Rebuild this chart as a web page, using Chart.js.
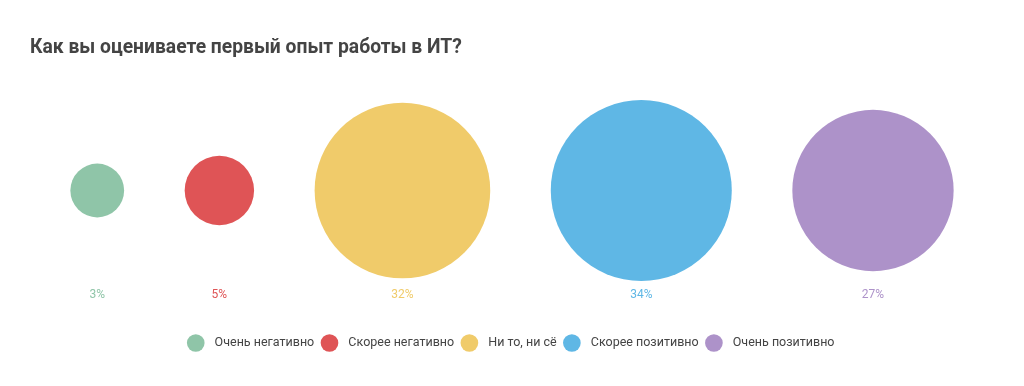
<!DOCTYPE html>
<html lang="ru">
<head>
<meta charset="UTF-8">
<title>Первый опыт работы в ИТ</title>
<script src="https://cdn.jsdelivr.net/npm/chart.js"></script>
<style>
  html, body { margin: 0; padding: 0; background: #fff; }
  .wrap { width: 1024px; height: 386px; }
</style>
</head>
<body>
<div class="wrap"><canvas id="chart"></canvas></div>
<script>
  const CATEGORIES = ['Очень негативно', 'Скорее негативно', 'Ни то, ни сё', 'Скорее позитивно', 'Очень позитивно'];
  const VALUES = [3, 5, 32, 34, 27]; // %
  const COLORS = ['#8fc5a8', '#df5456', '#f0cb6a', '#5fb7e5', '#ad92c9'];

  // bubbles side by side, area proportional to value (units = sqrt of %)
  const GAP = 3.9, MARGIN = 2.6;
  let cursor = 0;
  const CENTERS = VALUES.map(v => {
    const r = Math.sqrt(v);
    const c = cursor + r;
    cursor += 2 * r + GAP;
    return c;
  });
  const SPAN = cursor - GAP;

  const PAD_X = 30;
  const PLOT_W = 1024 - 2 * PAD_X;
  const PX_PER_UNIT = PLOT_W / (SPAN + 2 * MARGIN);

  Chart.defaults.font.family = 'Roboto';

  const datasets = CATEGORIES.map((name, i) => ({
    label: name,
    data: [{ x: CENTERS[i], y: 0, r: Math.sqrt(VALUES[i]) * PX_PER_UNIT }],
    backgroundColor: COLORS[i],
    borderWidth: 0,
    hoverBorderWidth: 0,
    clip: false
  }));

  new Chart(document.getElementById('chart'), {
    type: 'bubble',
    data: { datasets },
    options: {
      responsive: true,
      maintainAspectRatio: false,
      animation: false,
      layout: { autoPadding: false, padding: { left: PAD_X, right: PAD_X, top: 0, bottom: 26.75 } },
      scales: {
        x: {
          type: 'linear',
          min: -MARGIN,
          max: SPAN + MARGIN,
          grid: { display: false, drawTicks: false },
          border: { display: false },
          afterBuildTicks: scale => { scale.ticks = CENTERS.map(v => ({ value: v })); },
          ticks: {
            autoSkip: false,
            maxRotation: 0,
            padding: 25.55,
            font: { size: 12 },
            color: ctx => COLORS[ctx.index],
            callback: (value, index) => VALUES[index] + '%'
          }
        },
        y: { display: false, min: -1, max: 1 }
      },
      plugins: {
        title: {
          display: true,
          text: 'Как вы оцениваете первый опыт работы в ИТ?',
          align: 'start',
          color: '#444',
          font: { size: 19.3, weight: 'bold' },
          padding: { top: 37, bottom: 58.6 }
        },
        legend: {
          position: 'bottom',
          labels: {
            usePointStyle: true,
            pointStyle: 'circle',
            color: '#444',
            font: { size: 12.5 },
            padding: 9,
            generateLabels: chart => Chart.defaults.plugins.legend.labels.generateLabels(chart)
              .map(l => Object.assign(l, { text: '\u2002' + l.text }))
          }
        },
        tooltip: { enabled: false }
      }
    }
  });
</script>
</body>
</html>
